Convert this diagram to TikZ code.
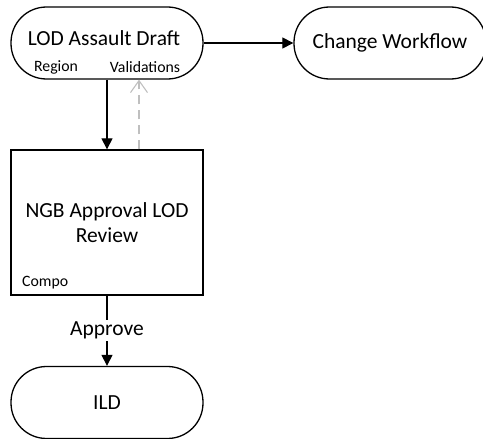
\documentclass[tikz,border=0pt]{standalone}
\usepackage{fontspec}
\setmainfont{Carlito}
\usetikzlibrary{arrows.meta}
\begin{document}
\begin{tikzpicture}[x=1pt,y=-1pt,
  big/.style={font=\fontsize{21.5}{25}\selectfont},
  term/.style={draw,line width=1.3pt,rounded corners=35.5pt,minimum width=192pt,minimum height=72pt,inner sep=0pt,big},
  proc/.style={draw,line width=1.3pt,minimum width=192pt,minimum height=145pt,inner sep=0pt,align=center,big},
  small/.style={font=\fontsize{15.8}{18}\selectfont,inner sep=0pt},
  flow/.style={line width=1.1pt,-{Triangle[length=11pt,width=11pt]}},
  back/.style={line width=1.1pt,draw=black!25,dash pattern=on 9pt off 6pt,-{Straight Barb[length=12pt,width=17pt]}}]
\useasboundingbox (0,0) rectangle (483,439);
\node[term] (lod) at (107,43) {};
\node[big] (lodt) at (104,38) {LOD Assault Draft};
\node[small] (reg) at (56,67) {Region};
\node[small] (val) at (145,67) {Validations};
\node[term] (chg) at (390,43) {Change Workflow};
\node[proc] (ngb) at (107,222.5) {NGB Approval LOD\\Review};
\node[small,anchor=west] (cmp) at (22,283) {Compo};
\node[term] (ild) at (107,402.5) {ILD};
\draw[flow] (lod.east) -- (chg.west);
\draw[flow] (lod.south) -- (ngb.north);
\draw[back] ([xshift=32pt]ngb.north) -- ([xshift=32pt]lod.south);
\draw[flow] (ngb.south) -- node[fill=white,inner sep=2pt,big] (apr) {Approve} (ild.north);
\end{tikzpicture}
\end{document}
